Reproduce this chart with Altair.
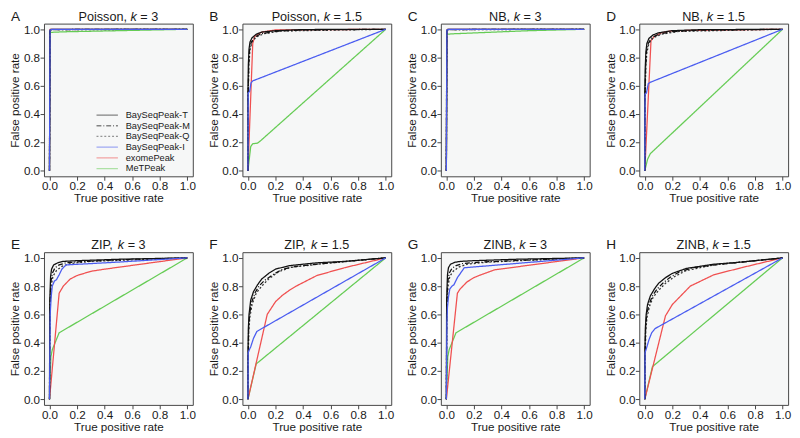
import altair as alt
import pandas as pd

methods = ["BaySeqPeak-T", "BaySeqPeak-M", "BaySeqPeak-Q", "BaySeqPeak-I", "exomePeak", "MeTPeak"]
colors = ["#111111", "#111111", "#333333", "#4a5cf0", "#f05050", "#66cc55"]
dashes = [[1, 0], [5, 2, 1, 2], [2, 2], [1, 0], [1, 0], [1, 0]]
draw_order = ["MeTPeak", "exomePeak", "BaySeqPeak-Q", "BaySeqPeak-M", "BaySeqPeak-T", "BaySeqPeak-I"]

letters = ["A", "B", "C", "D", "E", "F", "G", "H"]
models = ["Poisson", "Poisson", "NB", "NB", "ZIP", "ZIP", "ZINB", "ZINB"]
kvals = ["3", "1.5", "3", "1.5", "3", "1.5", "3", "1.5"]
ticks = [0.0, 0.2, 0.4, 0.6, 0.8, 1.0]

# ---- Panel A: Poisson, k = 3
A_T = [(0, 0), (0.003, 0.99), (0.01, 1.0), (1, 1)]
A_M = [(0, 0), (0.003, 0.985), (0.012, 0.998), (1, 1)]
A_Q = [(0, 0), (0.003, 0.984), (0.012, 0.997), (1, 1)]
A_I = [(0, 0), (0.004, 0.995), (0.02, 1.0), (1, 1)]
A_E = [(0, 0), (0.003, 0.998), (0.01, 1.0), (1, 1)]
A_Me = [(0, 0), (0.004, 0.978), (0.1, 0.982), (0.5, 0.99), (1, 1)]

# ---- Panel B: Poisson, k = 1.5
B_T = [(0, 0), (0, 0.55), (0.003, 0.75), (0.008, 0.86), (0.015, 0.91), (0.03, 0.94), (0.06, 0.965), (0.1, 0.98), (0.2, 0.99), (0.4, 0.998), (1, 1)]
B_M = [(0, 0), (0.002, 0.55), (0.006, 0.76), (0.012, 0.86), (0.025, 0.91), (0.05, 0.945), (0.1, 0.97), (0.2, 0.985), (0.4, 0.995), (1, 1)]
B_Q = [(0, 0), (0.002, 0.55), (0.007, 0.74), (0.014, 0.85), (0.03, 0.91), (0.06, 0.945), (0.12, 0.97), (0.25, 0.988), (1, 1)]
B_I = [(0, 0), (0.002, 0.55), (0.012, 0.56), (0.022, 0.62), (0.035, 0.635), (1, 1)]
B_E = [(0, 0), (0.035, 0.9), (0.05, 0.95), (0.1, 0.98), (0.2, 0.995), (1, 1)]
B_Me = [(0, 0), (0.02, 0.17), (0.035, 0.19), (0.07, 0.195), (0.09, 0.21), (1, 1)]

# ---- Panel C: NB, k = 3
C_T = [(0, 0), (0.003, 0.99), (0.01, 1.0), (1, 1)]
C_M = [(0, 0), (0.003, 0.985), (0.012, 0.998), (1, 1)]
C_Q = [(0, 0), (0.003, 0.984), (0.012, 0.997), (1, 1)]
C_I = [(0, 0), (0.004, 0.995), (0.02, 1.0), (1, 1)]
C_E = [(0, 0), (0.004, 0.995), (0.015, 1.0), (1, 1)]
C_Me = [(0, 0), (0.005, 0.965), (0.05, 0.968), (0.3, 0.978), (0.6, 0.99), (1, 1)]

# ---- Panel D: NB, k = 1.5
D_T = [(0, 0), (0, 0.54), (0.003, 0.72), (0.008, 0.84), (0.015, 0.9), (0.03, 0.935), (0.06, 0.96), (0.1, 0.975), (0.2, 0.99), (0.4, 0.997), (1, 1)]
D_M = [(0, 0), (0.002, 0.54), (0.006, 0.73), (0.012, 0.84), (0.025, 0.9), (0.05, 0.94), (0.1, 0.965), (0.2, 0.983), (0.4, 0.994), (1, 1)]
D_Q = [(0, 0), (0.002, 0.54), (0.007, 0.71), (0.014, 0.83), (0.03, 0.9), (0.06, 0.94), (0.12, 0.965), (0.25, 0.985), (1, 1)]
D_I = [(0, 0), (0.002, 0.54), (0.012, 0.55), (0.025, 0.615), (0.04, 0.625), (1, 1)]
D_E = [(0, 0), (0.045, 0.92), (0.07, 0.95), (0.12, 0.975), (0.2, 0.99), (1, 1)]
D_Me = [(0, 0), (0.02, 0.08), (0.04, 0.12), (1, 1)]

# ---- Panel E: ZIP, k = 3
E_T = [(0, 0), (0.002, 0.7), (0.008, 0.87), (0.015, 0.92), (0.03, 0.95), (0.06, 0.965), (0.1, 0.975), (0.2, 0.98), (0.5, 0.99), (1, 1)]
E_M = [(0, 0), (0.003, 0.65), (0.01, 0.83), (0.02, 0.89), (0.04, 0.93), (0.07, 0.95), (0.12, 0.965), (0.25, 0.975), (0.6, 0.99), (1, 1)]
E_Q = [(0, 0), (0.003, 0.62), (0.012, 0.8), (0.025, 0.87), (0.05, 0.91), (0.09, 0.94), (0.15, 0.96), (0.3, 0.975), (1, 1)]
E_I = [(0, 0), (0.005, 0.6), (0.012, 0.72), (0.02, 0.8), (0.035, 0.835), (0.05, 0.845), (0.07, 0.88), (0.09, 0.92), (0.12, 0.95), (0.5, 0.97), (1, 1)]
E_E = [(0, 0), (0.07, 0.75), (0.1, 0.8), (0.15, 0.85), (0.2, 0.875), (0.3, 0.905), (0.4, 0.92), (1, 1)]
E_Me = [(0, 0), (0.01, 0.3), (0.02, 0.35), (0.07, 0.47), (1, 1)]

# ---- Panel F: ZIP, k = 1.5
F_T = [(0, 0), (0, 0.3), (0.003, 0.5), (0.008, 0.6), (0.02, 0.7), (0.04, 0.76), (0.07, 0.81), (0.1, 0.85), (0.15, 0.89), (0.2, 0.92), (0.3, 0.945), (0.5, 0.965), (0.7, 0.975), (1, 1)]
F_M = [(0, 0), (0.002, 0.3), (0.005, 0.5), (0.012, 0.6), (0.025, 0.68), (0.05, 0.75), (0.08, 0.8), (0.12, 0.84), (0.18, 0.88), (0.25, 0.92), (0.35, 0.94), (0.55, 0.96), (1, 1)]
F_Q = [(0, 0), (0.002, 0.28), (0.006, 0.48), (0.014, 0.58), (0.03, 0.67), (0.06, 0.75), (0.1, 0.8), (0.15, 0.85), (0.22, 0.9), (0.3, 0.93), (0.5, 0.955), (1, 1)]
F_I = [(0, 0), (0.002, 0.33), (0.01, 0.35), (0.02, 0.37), (0.04, 0.43), (0.065, 0.48), (1, 1)]
F_E = [(0, 0), (0.14, 0.6), (0.2, 0.69), (0.25, 0.735), (0.3, 0.77), (0.35, 0.8), (0.5, 0.875), (0.7, 0.93), (1, 1)]
F_Me = [(0, 0), (0.06, 0.25), (1, 1)]

# ---- Panel G: ZINB, k = 3
G_T = [(0, 0), (0.002, 0.7), (0.008, 0.88), (0.015, 0.93), (0.03, 0.955), (0.06, 0.968), (0.1, 0.975), (0.2, 0.98), (0.5, 0.99), (1, 1)]
G_M = [(0, 0), (0.003, 0.65), (0.01, 0.83), (0.02, 0.89), (0.04, 0.925), (0.07, 0.945), (0.12, 0.96), (0.25, 0.97), (0.6, 0.985), (1, 1)]
G_Q = [(0, 0), (0.003, 0.6), (0.012, 0.8), (0.025, 0.87), (0.05, 0.905), (0.09, 0.935), (0.15, 0.955), (0.3, 0.97), (1, 1)]
G_I = [(0, 0), (0.004, 0.55), (0.008, 0.65), (0.015, 0.72), (0.025, 0.78), (0.04, 0.8), (0.055, 0.81), (0.08, 0.86), (0.13, 0.93), (1, 1)]
G_E = [(0, 0), (0.08, 0.75), (0.1, 0.78), (0.15, 0.83), (0.2, 0.86), (0.25, 0.88), (0.35, 0.915), (1, 1)]
G_Me = [(0, 0), (0.01, 0.3), (0.02, 0.35), (0.07, 0.47), (1, 1)]

# ---- Panel H: ZINB, k = 1.5
H_T = [(0, 0), (0, 0.3), (0.004, 0.5), (0.01, 0.6), (0.02, 0.67), (0.04, 0.73), (0.07, 0.78), (0.1, 0.82), (0.15, 0.86), (0.2, 0.89), (0.3, 0.925), (0.5, 0.955), (0.7, 0.97), (1, 1)]
H_M = [(0, 0), (0.002, 0.3), (0.006, 0.5), (0.014, 0.6), (0.03, 0.67), (0.055, 0.73), (0.09, 0.78), (0.13, 0.82), (0.18, 0.86), (0.25, 0.9), (0.35, 0.93), (0.55, 0.955), (1, 1)]
H_Q = [(0, 0), (0.002, 0.28), (0.007, 0.48), (0.016, 0.58), (0.035, 0.66), (0.06, 0.72), (0.1, 0.77), (0.15, 0.82), (0.22, 0.87), (0.3, 0.91), (0.5, 0.95), (1, 1)]
H_I = [(0, 0), (0.002, 0.33), (0.012, 0.36), (0.03, 0.42), (0.05, 0.47), (0.075, 0.5), (1, 1)]
H_E = [(0, 0), (0.15, 0.59), (0.2, 0.67), (0.25, 0.72), (0.33, 0.8), (0.5, 0.88), (0.7, 0.93), (1, 1)]
H_Me = [(0, 0), (0.055, 0.23), (1, 1)]

panels = {
    "A": [A_T, A_M, A_Q, A_I, A_E, A_Me],
    "B": [B_T, B_M, B_Q, B_I, B_E, B_Me],
    "C": [C_T, C_M, C_Q, C_I, C_E, C_Me],
    "D": [D_T, D_M, D_Q, D_I, D_E, D_Me],
    "E": [E_T, E_M, E_Q, E_I, E_E, E_Me],
    "F": [F_T, F_M, F_Q, F_I, F_E, F_Me],
    "G": [G_T, G_M, G_Q, G_I, G_E, G_Me],
    "H": [H_T, H_M, H_Q, H_I, H_E, H_Me],
}

# ---------------- layout / style
W, H = 153, 157
FONT = "Liberation Sans"
TXT = "#1a1a1a"
TITLE_SIZE = 13

# approximate Arial advance widths (per 1000 em) for centring the mixed-style titles
ADV = {"P": 667, "o": 556, "i": 222, "s": 500, "n": 556, ",": 278, " ": 278, "k": 500,
       "=": 584, "3": 556, "1": 556, ".": 278, "5": 556, "N": 722, "B": 667, "Z": 611, "I": 278}


def tw(s):
    return sum(ADV.get(c, 556) for c in s) * TITLE_SIZE / 1000.0


def panel_chart(i):
    letter = letters[i]
    rows = []
    curves = dict(zip(methods, panels[letter]))
    for m in draw_order:
        for j, (x, y) in enumerate(curves[m]):
            rows.append({"method": m, "x": x, "y": y, "idx": j})
    df = pd.DataFrame(rows)

    if i == 0:
        legend = alt.Legend(
            title=None, orient="none", legendX=59, legendY=88,
            symbolType="M-2.2,0H2.2", symbolSize=100, symbolStrokeWidth=1.3,
            symbolOpacity=0.5, labelFontSize=9.5, labelFont=FONT, labelColor=TXT,
            rowPadding=-1, labelOffset=13, values=methods, padding=0,
        )
    else:
        legend = None

    xs = alt.Scale(domain=[-0.04, 1.04], nice=False, zero=False)
    ys = alt.Scale(domain=[-0.04, 1.04], nice=False, zero=False)

    lines = alt.Chart(df).mark_line(strokeWidth=1.3, clip=True).encode(
        x=alt.X("x:Q", scale=xs, title="True positive rate",
                axis=alt.Axis(values=ticks, format=".1f")),
        y=alt.Y("y:Q", scale=ys, title="False positive rate",
                axis=alt.Axis(values=ticks, format=".1f")),
        color=alt.Color("method:N", scale=alt.Scale(domain=methods, range=colors), legend=legend),
        strokeDash=alt.StrokeDash("method:N", scale=alt.Scale(domain=methods, range=dashes), legend=legend),
        detail="method:N",
        order="idx:Q",
    )

    pre = models[i] + ","
    suf = "= " + kvals[i]
    total = tw(pre) + tw(" ") + tw("k") + tw(" ") + tw(suf)
    x0 = W / 2 - total / 2
    xk = x0 + tw(pre) + tw(" ")
    xs2 = xk + tw("k") + tw(" ")
    ty = -3

    one = alt.Data(values=[{"a": 1}])

    def txt(text, x, style="normal", size=TITLE_SIZE):
        return alt.Chart(one).mark_text(
            text=text, align="left", baseline="alphabetic", font=FONT,
            fontSize=size, fontStyle=style, color=TXT,
        ).encode(x=alt.value(x), y=alt.value(ty))

    layers = [
        lines,
        txt(pre, x0),
        txt("k", xk, style="italic"),
        txt(suf, xs2),
        txt(letter, -34, size=14),
    ]
    return alt.layer(*layers).properties(width=W, height=H)


charts = [panel_chart(i) for i in range(8)]

chart = alt.concat(*charts, columns=4, spacing={"row": 34, "column": 10}).resolve_scale(
    color="independent", strokeDash="independent"
).resolve_legend(
    color="independent", strokeDash="independent"
).configure_view(
    stroke="#444444", strokeWidth=1, fill="#f6f7f7"
).configure_axis(
    domain=False, grid=False, tickSize=4, tickColor="#444444", tickWidth=1,
    labelFont=FONT, labelFontSize=12, labelColor=TXT, labelPadding=0.5,
    titleFont=FONT, titleFontSize=12, titleFontWeight="normal", titleColor=TXT,
    titlePadding=1.5,
).properties(background="white", padding={"top": -5, "left": 0, "right": 0, "bottom": 0})

chart.save("out.html", embed_options={"renderer": "svg", "actions": False})
